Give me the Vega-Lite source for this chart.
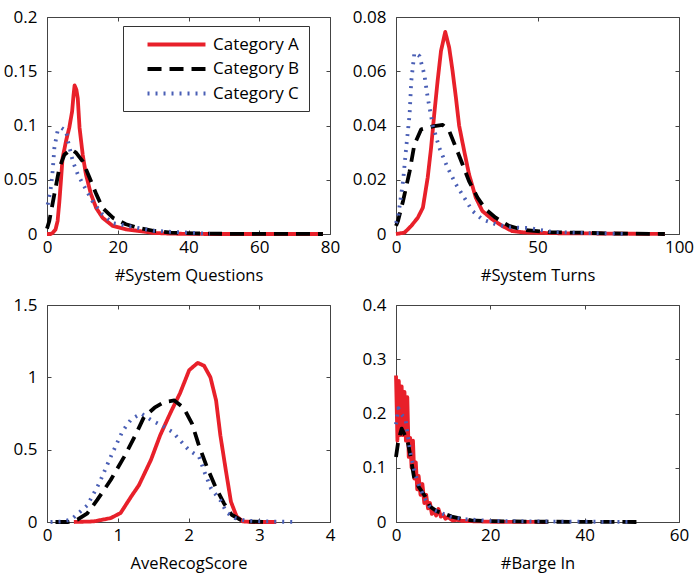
{
  "$schema": "https://vega.github.io/schema/vega-lite/v6.json",
  "padding": {"left": 2, "top": 7, "right": 5, "bottom": 5},
  "background": "white",
  "bounds": "flush",
  "columns": 2,
  "spacing": {"row": 71, "column": 66},
  "datasets": {
    "p1": [
      {"x":0,"y":0,"c":"Category A"},{"x":1,"y":0,"c":"Category A"},{"x":1.6,"y":0.001,"c":"Category A"},{"x":2.4,"y":0.004,"c":"Category A"},{"x":3.0,"y":0.012,"c":"Category A"},{"x":3.5,"y":0.03,"c":"Category A"},{"x":4.0,"y":0.052,"c":"Category A"},{"x":4.4,"y":0.07,"c":"Category A"},{"x":5.4,"y":0.086,"c":"Category A"},{"x":6.3,"y":0.098,"c":"Category A"},{"x":7.1,"y":0.113,"c":"Category A"},{"x":7.5,"y":0.128,"c":"Category A"},{"x":7.8,"y":0.137,"c":"Category A"},{"x":8.3,"y":0.133,"c":"Category A"},{"x":8.7,"y":0.125,"c":"Category A"},{"x":9.2,"y":0.098,"c":"Category A"},{"x":10.1,"y":0.073,"c":"Category A"},{"x":11.0,"y":0.055,"c":"Category A"},{"x":12.4,"y":0.037,"c":"Category A"},{"x":13.9,"y":0.024,"c":"Category A"},{"x":15.7,"y":0.015,"c":"Category A"},{"x":18.6,"y":0.0074,"c":"Category A"},{"x":22.3,"y":0.0043,"c":"Category A"},{"x":25.5,"y":0.003,"c":"Category A"},{"x":30,"y":0.001,"c":"Category A"},{"x":35,"y":0.0003,"c":"Category A"},{"x":45,"y":0,"c":"Category A"},{"x":78,"y":0,"c":"Category A"},
      {"x":0,"y":0.005,"c":"Category B"},{"x":0.65,"y":0.012,"c":"Category B"},{"x":2.1,"y":0.037,"c":"Category B"},{"x":3.5,"y":0.061,"c":"Category B"},{"x":4.9,"y":0.073,"c":"Category B"},{"x":6.8,"y":0.078,"c":"Category B"},{"x":8.2,"y":0.075,"c":"Category B"},{"x":10.1,"y":0.067,"c":"Category B"},{"x":12,"y":0.052,"c":"Category B"},{"x":13.9,"y":0.037,"c":"Category B"},{"x":15.7,"y":0.024,"c":"Category B"},{"x":18.6,"y":0.015,"c":"Category B"},{"x":22.3,"y":0.009,"c":"Category B"},{"x":25.5,"y":0.006,"c":"Category B"},{"x":30,"y":0.003,"c":"Category B"},{"x":35,"y":0.0012,"c":"Category B"},{"x":42,"y":0.0005,"c":"Category B"},{"x":50,"y":0.0002,"c":"Category B"},{"x":78,"y":0,"c":"Category B"},
      {"x":0.2,"y":0.027,"c":"Category C"},{"x":1.0,"y":0.04,"c":"Category C"},{"x":1.6,"y":0.058,"c":"Category C"},{"x":2.1,"y":0.08,"c":"Category C"},{"x":3.0,"y":0.095,"c":"Category C"},{"x":4.0,"y":0.098,"c":"Category C"},{"x":5.4,"y":0.095,"c":"Category C"},{"x":5.9,"y":0.086,"c":"Category C"},{"x":7.3,"y":0.067,"c":"Category C"},{"x":8.7,"y":0.055,"c":"Category C"},{"x":11,"y":0.041,"c":"Category C"},{"x":12.9,"y":0.03,"c":"Category C"},{"x":15.7,"y":0.018,"c":"Category C"},{"x":18.6,"y":0.01,"c":"Category C"},{"x":24.2,"y":0.0065,"c":"Category C"},{"x":30,"y":0.003,"c":"Category C"},{"x":35,"y":0.002,"c":"Category C"},{"x":42,"y":0.001,"c":"Category C"},{"x":46,"y":0,"c":"Category C"}
    ],
    "p2": [
      {"x":0,"y":0,"c":"Category A"},{"x":3,"y":0.0005,"c":"Category A"},{"x":5.4,"y":0.003,"c":"Category A"},{"x":7.7,"y":0.006,"c":"Category A"},{"x":9.5,"y":0.0097,"c":"Category A"},{"x":11.2,"y":0.0208,"c":"Category A"},{"x":12.4,"y":0.0318,"c":"Category A"},{"x":13.5,"y":0.044,"c":"Category A"},{"x":14.7,"y":0.0564,"c":"Category A"},{"x":15.9,"y":0.0675,"c":"Category A"},{"x":17.4,"y":0.0745,"c":"Category A"},{"x":18.8,"y":0.0687,"c":"Category A"},{"x":20,"y":0.06,"c":"Category A"},{"x":21.2,"y":0.05,"c":"Category A"},{"x":22.3,"y":0.04,"c":"Category A"},{"x":24.1,"y":0.0306,"c":"Category A"},{"x":25.8,"y":0.022,"c":"Category A"},{"x":28.2,"y":0.0134,"c":"Category A"},{"x":30.5,"y":0.0085,"c":"Category A"},{"x":34,"y":0.0054,"c":"Category A"},{"x":37.5,"y":0.003,"c":"Category A"},{"x":41,"y":0.0011,"c":"Category A"},{"x":45,"y":0.0006,"c":"Category A"},{"x":55,"y":0.0003,"c":"Category A"},{"x":70,"y":0.0002,"c":"Category A"},{"x":95,"y":0,"c":"Category A"},
      {"x":0,"y":0.003,"c":"Category B"},{"x":0.7,"y":0.0048,"c":"Category B"},{"x":2.5,"y":0.0122,"c":"Category B"},{"x":4.8,"y":0.023,"c":"Category B"},{"x":6.5,"y":0.033,"c":"Category B"},{"x":8.9,"y":0.0386,"c":"Category B"},{"x":11.2,"y":0.0392,"c":"Category B"},{"x":13.5,"y":0.0398,"c":"Category B"},{"x":16.5,"y":0.0402,"c":"Category B"},{"x":18.8,"y":0.038,"c":"Category B"},{"x":21.2,"y":0.0318,"c":"Category B"},{"x":23.5,"y":0.0257,"c":"Category B"},{"x":25.8,"y":0.0195,"c":"Category B"},{"x":28.8,"y":0.0134,"c":"Category B"},{"x":31.7,"y":0.0091,"c":"Category B"},{"x":35.2,"y":0.006,"c":"Category B"},{"x":39.9,"y":0.003,"c":"Category B"},{"x":45,"y":0.0015,"c":"Category B"},{"x":55,"y":0.0006,"c":"Category B"},{"x":65,"y":0.0005,"c":"Category B"},{"x":75,"y":0.0002,"c":"Category B"},{"x":95,"y":0,"c":"Category B"},
      {"x":0,"y":0.004,"c":"Category C"},{"x":0.7,"y":0.006,"c":"Category C"},{"x":2.5,"y":0.0195,"c":"Category C"},{"x":3.6,"y":0.0318,"c":"Category C"},{"x":4.8,"y":0.044,"c":"Category C"},{"x":5.4,"y":0.0564,"c":"Category C"},{"x":6.5,"y":0.0668,"c":"Category C"},{"x":8.3,"y":0.0656,"c":"Category C"},{"x":10,"y":0.0589,"c":"Category C"},{"x":11.2,"y":0.0503,"c":"Category C"},{"x":13,"y":0.04,"c":"Category C"},{"x":15.3,"y":0.0318,"c":"Category C"},{"x":18.2,"y":0.0245,"c":"Category C"},{"x":21.2,"y":0.0183,"c":"Category C"},{"x":24.1,"y":0.0134,"c":"Category C"},{"x":27,"y":0.0085,"c":"Category C"},{"x":30.5,"y":0.0054,"c":"Category C"},{"x":35.2,"y":0.0036,"c":"Category C"},{"x":40,"y":0.0025,"c":"Category C"},{"x":47,"y":0.0022,"c":"Category C"},{"x":55,"y":0.0008,"c":"Category C"},{"x":65,"y":0.0004,"c":"Category C"},{"x":75,"y":0.0002,"c":"Category C"},{"x":82,"y":0,"c":"Category C"}
    ],
    "p3": [
      {"x":0.38,"y":0,"c":"Category A"},{"x":0.66,"y":0.004,"c":"Category A"},{"x":0.9,"y":0.027,"c":"Category A"},{"x":1.04,"y":0.062,"c":"Category A"},{"x":1.19,"y":0.176,"c":"Category A"},{"x":1.3,"y":0.255,"c":"Category A"},{"x":1.47,"y":0.43,"c":"Category A"},{"x":1.6,"y":0.6,"c":"Category A"},{"x":1.75,"y":0.76,"c":"Category A"},{"x":1.88,"y":0.89,"c":"Category A"},{"x":2.01,"y":1.05,"c":"Category A"},{"x":2.13,"y":1.1,"c":"Category A"},{"x":2.22,"y":1.08,"c":"Category A"},{"x":2.31,"y":1.0,"c":"Category A"},{"x":2.39,"y":0.84,"c":"Category A"},{"x":2.45,"y":0.6,"c":"Category A"},{"x":2.53,"y":0.35,"c":"Category A"},{"x":2.6,"y":0.14,"c":"Category A"},{"x":2.68,"y":0.038,"c":"Category A"},{"x":2.77,"y":0.004,"c":"Category A"},{"x":2.9,"y":0,"c":"Category A"},{"x":3.24,"y":0,"c":"Category A"},
      {"x":0.12,"y":0,"c":"Category B"},{"x":0.3,"y":0,"c":"Category B"},{"x":0.43,"y":0.016,"c":"Category B"},{"x":0.57,"y":0.06,"c":"Category B"},{"x":0.71,"y":0.153,"c":"Category B"},{"x":0.9,"y":0.29,"c":"Category B"},{"x":1.09,"y":0.45,"c":"Category B"},{"x":1.26,"y":0.61,"c":"Category B"},{"x":1.37,"y":0.725,"c":"Category B"},{"x":1.52,"y":0.79,"c":"Category B"},{"x":1.66,"y":0.83,"c":"Category B"},{"x":1.8,"y":0.84,"c":"Category B"},{"x":1.93,"y":0.79,"c":"Category B"},{"x":2.05,"y":0.68,"c":"Category B"},{"x":2.14,"y":0.54,"c":"Category B"},{"x":2.26,"y":0.38,"c":"Category B"},{"x":2.38,"y":0.245,"c":"Category B"},{"x":2.5,"y":0.13,"c":"Category B"},{"x":2.61,"y":0.05,"c":"Category B"},{"x":2.73,"y":0.016,"c":"Category B"},{"x":2.85,"y":0.003,"c":"Category B"},{"x":3.1,"y":0,"c":"Category B"},
      {"x":0.05,"y":0,"c":"Category C"},{"x":0.2,"y":0.003,"c":"Category C"},{"x":0.34,"y":0.016,"c":"Category C"},{"x":0.57,"y":0.115,"c":"Category C"},{"x":0.74,"y":0.27,"c":"Category C"},{"x":0.9,"y":0.45,"c":"Category C"},{"x":1.07,"y":0.63,"c":"Category C"},{"x":1.19,"y":0.71,"c":"Category C"},{"x":1.33,"y":0.75,"c":"Category C"},{"x":1.49,"y":0.7,"c":"Category C"},{"x":1.65,"y":0.66,"c":"Category C"},{"x":1.78,"y":0.62,"c":"Category C"},{"x":1.88,"y":0.565,"c":"Category C"},{"x":2.0,"y":0.5,"c":"Category C"},{"x":2.15,"y":0.45,"c":"Category C"},{"x":2.23,"y":0.34,"c":"Category C"},{"x":2.32,"y":0.23,"c":"Category C"},{"x":2.45,"y":0.15,"c":"Category C"},{"x":2.54,"y":0.065,"c":"Category C"},{"x":2.66,"y":0.027,"c":"Category C"},{"x":2.8,"y":0.01,"c":"Category C"},{"x":3.0,"y":0.005,"c":"Category C"},{"x":3.2,"y":0.003,"c":"Category C"},{"x":3.53,"y":0,"c":"Category C"}
    ],
    "p4": [
      {"x":0,"y":0.27,"c":"Category A"},{"x":0.3,"y":0.15,"c":"Category A"},{"x":0.6,"y":0.26,"c":"Category A"},{"x":0.9,"y":0.16,"c":"Category A"},{"x":1.2,"y":0.25,"c":"Category A"},{"x":1.5,"y":0.16,"c":"Category A"},{"x":1.8,"y":0.24,"c":"Category A"},{"x":2.1,"y":0.15,"c":"Category A"},{"x":2.4,"y":0.23,"c":"Category A"},{"x":2.7,"y":0.12,"c":"Category A"},{"x":3.0,"y":0.155,"c":"Category A"},{"x":3.3,"y":0.1,"c":"Category A"},{"x":3.6,"y":0.15,"c":"Category A"},{"x":3.9,"y":0.08,"c":"Category A"},{"x":4.2,"y":0.11,"c":"Category A"},{"x":4.5,"y":0.06,"c":"Category A"},{"x":4.8,"y":0.085,"c":"Category A"},{"x":5.2,"y":0.05,"c":"Category A"},{"x":5.6,"y":0.07,"c":"Category A"},{"x":6,"y":0.035,"c":"Category A"},{"x":6.4,"y":0.05,"c":"Category A"},{"x":6.8,"y":0.025,"c":"Category A"},{"x":7.2,"y":0.035,"c":"Category A"},{"x":7.6,"y":0.015,"c":"Category A"},{"x":8,"y":0.022,"c":"Category A"},{"x":8.5,"y":0.012,"c":"Category A"},{"x":9,"y":0.024,"c":"Category A"},{"x":9.5,"y":0.01,"c":"Category A"},{"x":10,"y":0.013,"c":"Category A"},{"x":10.5,"y":0.006,"c":"Category A"},{"x":11,"y":0.009,"c":"Category A"},{"x":12,"y":0.003,"c":"Category A"},{"x":13,"y":0.004,"c":"Category A"},{"x":14,"y":0.002,"c":"Category A"},{"x":16,"y":0.0015,"c":"Category A"},{"x":18,"y":0.001,"c":"Category A"},{"x":20,"y":0.0005,"c":"Category A"},{"x":25,"y":0.0003,"c":"Category A"},{"x":32,"y":0,"c":"Category A"},
      {"x":0,"y":0.12,"c":"Category B"},{"x":0.5,"y":0.15,"c":"Category B"},{"x":1.2,"y":0.172,"c":"Category B"},{"x":2.4,"y":0.151,"c":"Category B"},{"x":3.1,"y":0.12,"c":"Category B"},{"x":3.8,"y":0.0835,"c":"Category B"},{"x":4.8,"y":0.065,"c":"Category B"},{"x":6.2,"y":0.047,"c":"Category B"},{"x":7.2,"y":0.0286,"c":"Category B"},{"x":8.6,"y":0.02,"c":"Category B"},{"x":10.4,"y":0.015,"c":"Category B"},{"x":11.8,"y":0.01,"c":"Category B"},{"x":14,"y":0.0055,"c":"Category B"},{"x":16,"y":0.003,"c":"Category B"},{"x":20,"y":0.0015,"c":"Category B"},{"x":25,"y":0.001,"c":"Category B"},{"x":30,"y":0.0005,"c":"Category B"},{"x":40,"y":0.0003,"c":"Category B"},{"x":52,"y":0,"c":"Category B"},
      {"x":0,"y":0.18,"c":"Category C"},{"x":0.5,"y":0.21,"c":"Category C"},{"x":1,"y":0.2,"c":"Category C"},{"x":2,"y":0.19,"c":"Category C"},{"x":3,"y":0.13,"c":"Category C"},{"x":4,"y":0.09,"c":"Category C"},{"x":5,"y":0.065,"c":"Category C"},{"x":6,"y":0.045,"c":"Category C"},{"x":7,"y":0.03,"c":"Category C"},{"x":8,"y":0.022,"c":"Category C"},{"x":10,"y":0.015,"c":"Category C"},{"x":12,"y":0.008,"c":"Category C"},{"x":15,"y":0.005,"c":"Category C"},{"x":20,"y":0.002,"c":"Category C"},{"x":30,"y":0.001,"c":"Category C"},{"x":40,"y":0.0006,"c":"Category C"},{"x":50,"y":0,"c":"Category C"}
    ]
  },
  "concat": [
    {
      "width": 283, "height": 217,
      "data": {"name": "p1"},
      "layer": [
        {
          "mark": {"type": "line", "strokeCap": "butt", "strokeJoin": "round"},
          "encoding": {
            "x": {"field": "x", "type": "quantitative", "scale": {"domain": [0, 80], "nice": false, "zero": false}, "axis": {"values": [0, 20, 40, 60, 80], "title": "#System Questions"}},
            "y": {"field": "y", "type": "quantitative", "scale": {"domain": [0, 0.2], "nice": false}, "axis": {"values": [0, 0.05, 0.1, 0.15, 0.2], "format": "~f", "title": null}},
            "color": {"field": "c", "type": "nominal", "scale": {"domain": ["Category A", "Category B", "Category C"], "range": ["#e8202a", "#000000", "#4a5fb5"]}, "legend": {"title": null, "orient": "none", "legendX": 76, "legendY": 9, "strokeColor": "#333", "fillColor": "#ffffff", "padding": 9, "labelFontSize": 17, "labelFont": "Open Sans", "labelColor": "#000", "symbolType": "M-4,0H4", "symbolSize": 210, "labelOffset": 27, "rowPadding": 6.5, "symbolOffset": 35}},
            "strokeDash": {"field": "c", "type": "nominal", "scale": {"domain": ["Category A", "Category B", "Category C"], "range": [[1, 0], [14, 8], [2, 6]]}, "legend": {"title": null, "orient": "none", "legendX": 76, "legendY": 9, "strokeColor": "#333", "fillColor": "#ffffff", "padding": 9, "labelFontSize": 17, "labelFont": "Open Sans", "labelColor": "#000", "symbolType": "M-4,0H4", "symbolSize": 210, "labelOffset": 27, "rowPadding": 6.5, "symbolOffset": 35}},
            "strokeWidth": {"field": "c", "type": "nominal", "scale": {"domain": ["Category A", "Category B", "Category C"], "range": [3.8, 3.8, 1.8]}, "legend": {"title": null, "orient": "none", "legendX": 76, "legendY": 9, "strokeColor": "#333", "fillColor": "#ffffff", "padding": 9, "labelFontSize": 17, "labelFont": "Open Sans", "labelColor": "#000", "symbolType": "M-4,0H4", "symbolSize": 210, "labelOffset": 27, "rowPadding": 6.5, "symbolOffset": 35}}
          }
        },
        {
          "mark": {"type": "line", "opacity": 0},
          "encoding": {
            "x": {"field": "x", "type": "quantitative", "axis": {"orient": "top", "values": [0, 20, 40, 60, 80], "labels": false, "title": null}},
            "y": {"field": "y", "type": "quantitative", "axis": {"orient": "right", "values": [0, 0.05, 0.1, 0.15, 0.2], "labels": false, "title": null}}
          }
        }
      ],
      "resolve": {"axis": {"x": "independent", "y": "independent"}}
    },
    {
      "width": 283, "height": 217,
      "data": {"name": "p2"},
      "layer": [
        {
          "mark": {"type": "line", "strokeCap": "butt", "strokeJoin": "round"},
          "encoding": {
            "x": {"field": "x", "type": "quantitative", "scale": {"domain": [0, 100], "nice": false, "zero": false}, "axis": {"values": [0, 50, 100], "title": "#System Turns"}},
            "y": {"field": "y", "type": "quantitative", "scale": {"domain": [0, 0.08], "nice": false}, "axis": {"values": [0, 0.02, 0.04, 0.06, 0.08], "format": "~f", "title": null}},
            "color": {"field": "c", "type": "nominal", "scale": {"domain": ["Category A", "Category B", "Category C"], "range": ["#e8202a", "#000000", "#4a5fb5"]}, "legend": null},
            "strokeDash": {"field": "c", "type": "nominal", "scale": {"domain": ["Category A", "Category B", "Category C"], "range": [[1, 0], [14, 8], [2, 6]]}, "legend": null},
            "strokeWidth": {"field": "c", "type": "nominal", "scale": {"domain": ["Category A", "Category B", "Category C"], "range": [3.8, 3.8, 1.8]}, "legend": null}
          }
        },
        {
          "mark": {"type": "line", "opacity": 0},
          "encoding": {
            "x": {"field": "x", "type": "quantitative", "axis": {"orient": "top", "values": [0, 50, 100], "labels": false, "title": null}},
            "y": {"field": "y", "type": "quantitative", "axis": {"orient": "right", "values": [0, 0.02, 0.04, 0.06, 0.08], "labels": false, "title": null}}
          }
        }
      ],
      "resolve": {"axis": {"x": "independent", "y": "independent"}}
    },
    {
      "width": 283, "height": 217,
      "data": {"name": "p3"},
      "layer": [
        {
          "mark": {"type": "line", "strokeCap": "butt", "strokeJoin": "round"},
          "encoding": {
            "x": {"field": "x", "type": "quantitative", "scale": {"domain": [0, 4], "nice": false, "zero": false}, "axis": {"values": [0, 1, 2, 3, 4], "title": "AveRecogScore"}},
            "y": {"field": "y", "type": "quantitative", "scale": {"domain": [0, 1.5], "nice": false}, "axis": {"values": [0, 0.5, 1, 1.5], "format": "~f", "title": null}},
            "color": {"field": "c", "type": "nominal", "scale": {"domain": ["Category A", "Category B", "Category C"], "range": ["#e8202a", "#000000", "#4a5fb5"]}, "legend": null},
            "strokeDash": {"field": "c", "type": "nominal", "scale": {"domain": ["Category A", "Category B", "Category C"], "range": [[1, 0], [14, 8], [2, 6]]}, "legend": null},
            "strokeWidth": {"field": "c", "type": "nominal", "scale": {"domain": ["Category A", "Category B", "Category C"], "range": [3.8, 3.8, 1.8]}, "legend": null}
          }
        },
        {
          "mark": {"type": "line", "opacity": 0},
          "encoding": {
            "x": {"field": "x", "type": "quantitative", "axis": {"orient": "top", "values": [0, 1, 2, 3, 4], "labels": false, "title": null}},
            "y": {"field": "y", "type": "quantitative", "axis": {"orient": "right", "values": [0, 0.5, 1, 1.5], "labels": false, "title": null}}
          }
        }
      ],
      "resolve": {"axis": {"x": "independent", "y": "independent"}}
    },
    {
      "width": 283, "height": 217,
      "data": {"name": "p4"},
      "layer": [
        {
          "mark": {"type": "line", "strokeCap": "butt", "strokeJoin": "round"},
          "encoding": {
            "x": {"field": "x", "type": "quantitative", "scale": {"domain": [0, 60], "nice": false, "zero": false}, "axis": {"values": [0, 20, 40, 60], "title": "#Barge In"}},
            "y": {"field": "y", "type": "quantitative", "scale": {"domain": [0, 0.4], "nice": false}, "axis": {"values": [0, 0.1, 0.2, 0.3, 0.4], "format": "~f", "title": null}},
            "color": {"field": "c", "type": "nominal", "scale": {"domain": ["Category A", "Category B", "Category C"], "range": ["#e8202a", "#000000", "#4a5fb5"]}, "legend": null},
            "strokeDash": {"field": "c", "type": "nominal", "scale": {"domain": ["Category A", "Category B", "Category C"], "range": [[1, 0], [14, 8], [2, 6]]}, "legend": null},
            "strokeWidth": {"field": "c", "type": "nominal", "scale": {"domain": ["Category A", "Category B", "Category C"], "range": [4.5, 3.8, 1.8]}, "legend": null}
          }
        },
        {
          "mark": {"type": "line", "opacity": 0},
          "encoding": {
            "x": {"field": "x", "type": "quantitative", "axis": {"orient": "top", "values": [0, 20, 40, 60], "labels": false, "title": null}},
            "y": {"field": "y", "type": "quantitative", "axis": {"orient": "right", "values": [0, 0.1, 0.2, 0.3, 0.4], "labels": false, "title": null}}
          }
        }
      ],
      "resolve": {"axis": {"x": "independent", "y": "independent"}}
    }
  ],
  "config": {
    "font": "Open Sans",
    "view": {"stroke": "#444", "strokeWidth": 1},
    "axis": {"grid": false, "domain": false, "tickColor": "#444", "tickSize": -4, "labelFontSize": 17, "labelColor": "#000", "labelFont": "Open Sans", "titleFont": "Open Sans", "titleFontSize": 16.5, "titleFontWeight": "normal", "titleColor": "#000", "titlePadding": 12, "labelFlush": false, "labelOverlap": false},
    "axisX": {"labelPadding": 9},
    "axisY": {"labelPadding": 14}
  }
}
